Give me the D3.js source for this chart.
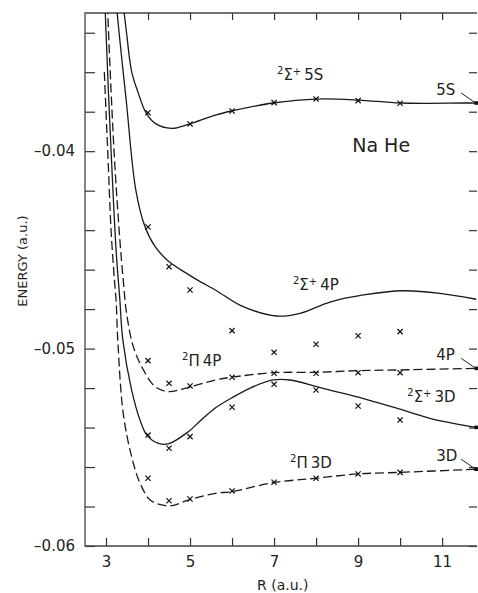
<!DOCTYPE html>
<html>
<head>
<meta charset="utf-8">
<script src="https://cdnjs.cloudflare.com/ajax/libs/d3/7.8.5/d3.min.js"></script>
<style>
body { margin:0; background:#fff; }
svg text { font-family: "DejaVu Sans", sans-serif; fill:#222; }
.axis path { display:none; }
.axis line { stroke:#333; stroke-width:1.2; }
.axis text { font-size:15px; }
</style>
</head>
<body>
<div id="chart"></div>
<script>
// potential curves [R, E]
var curve5S = [[3.36,-0.0322],[3.43,-0.0330],[3.49,-0.03403],[3.61,-0.03597],[3.77,-0.03707],[3.95,-0.03805],[4.17,-0.03859],[4.56,-0.03884],[4.96,-0.03864],[5.60,-0.03817],[6.0,-0.03796],[6.98,-0.03756],[8.02,-0.03736],[9.0,-0.03741],[10.02,-0.03756],[11.5,-0.03756],[11.81,-0.03756]];
var curveS4P = [[3.21,-0.0313],[3.26,-0.03285],[3.48,-0.03741],[3.71,-0.04197],[3.93,-0.04384],[4.17,-0.04484],[4.48,-0.04556],[4.88,-0.04614],[5.20,-0.04656],[5.64,-0.04708],[6.21,-0.04782],[7.06,-0.04835],[7.62,-0.04821],[8.33,-0.04764],[9.13,-0.04728],[10.08,-0.04707],[10.95,-0.04720],[11.81,-0.04750]];
var curveP4P = [[3.02,-0.0313],[3.04,-0.03285],[3.19,-0.03994],[3.33,-0.04450],[3.41,-0.04652],[3.49,-0.04821],[3.65,-0.04990],[3.89,-0.05108],[4.17,-0.05193],[4.48,-0.05218],[4.88,-0.05201],[5.60,-0.05159],[5.99,-0.05145],[6.98,-0.05122],[8.02,-0.05120],[8.97,-0.05112],[10.0,-0.05108],[11.81,-0.05100]];
var curveS3D = [[2.97,-0.0313],[2.98,-0.03285],[3.12,-0.03994],[3.24,-0.04501],[3.33,-0.04754],[3.40,-0.04956],[3.61,-0.05210],[3.81,-0.05362],[3.97,-0.05438],[4.25,-0.05480],[4.48,-0.05483],[4.96,-0.05421],[5.24,-0.05367],[5.60,-0.05301],[5.99,-0.05250],[6.43,-0.05200],[6.98,-0.05159],[7.38,-0.05159],[8.02,-0.05193],[8.33,-0.05210],[9.13,-0.05253],[9.92,-0.05302],[10.71,-0.05353],[11.81,-0.05399]];
var curveP3D = [[2.96,-0.03599],[3.05,-0.04045],[3.12,-0.04399],[3.20,-0.04652],[3.24,-0.04754],[3.28,-0.04956],[3.41,-0.05328],[3.61,-0.05548],[3.81,-0.05682],[4.05,-0.05767],[4.33,-0.05792],[4.56,-0.05796],[4.96,-0.05767],[5.60,-0.05733],[5.99,-0.05725],[6.98,-0.05679],[7.98,-0.05657],[9.0,-0.05635],[10.0,-0.05627],[11.81,-0.05611]];

// other calculation (crosses)
var crossR = [4, 4.5, 5, 6, 7, 8, 9, 10];
var crossR5S = [4, 5, 6, 7, 8, 9, 10];
var cross5S = [-0.03805,-0.03862,-0.03796,-0.03754,-0.03736,-0.03744,-0.03757];
var crossS4P = [-0.04384,-0.04585,-0.04703,-0.04909,-0.05019,-0.04978,-0.04935,-0.04914];
var crossP4P = [-0.05061,-0.05176,-0.05189,-0.05145,-0.05125,-0.05125,-0.05122,-0.05122];
var crossS3D = [-0.05438,-0.05505,-0.05446,-0.05297,-0.05181,-0.05210,-0.05291,-0.05362];
var crossP3D = [-0.05657,-0.05771,-0.05762,-0.05721,-0.05677,-0.05657,-0.05635,-0.05627];

// atomic asymptotes
var asymR = 11.81;
var asymE = [-0.03756, -0.05100, -0.05399, -0.05611];
var asymNames = ["5S", "4P", "", "3D"];

var yTickLabels = [-0.04, -0.05, -0.06];
var xTickLabels = [3, 5, 7, 9, 11];

var draw = function(){
	var svg = d3.select("#chart").append("svg").attr("width", 478).attr("height", 593);
	var x = d3.scaleLinear().domain([2.5, 11.83]).range([85, 477]);
	var y = d3.scaleLinear().domain([-0.06, -0.033]).range([546, 13]);

	svg.append("defs").append("clipPath").attr("id", "plot")
		.append("rect").attr("x", 85).attr("y", 13).attr("width", 392).attr("height", 533);

	var yTicks = d3.range(-0.06, -0.0329, 0.002);
	var xTicks = d3.range(3, 12, 1);

	var yAxis = d3.axisLeft(y).tickValues(yTicks).tickSizeInner(-10).tickSizeOuter(0).tickPadding(10)
		.tickFormat(function(d){
			var hit = yTickLabels.some(function(v){ return Math.abs(v - d) < 1e-6; });
			return hit ? "\u2013" + Math.abs(d).toFixed(2) : "";
		});
	svg.append("g").attr("class", "y axis").attr("transform", "translate(85,0)").call(yAxis);

	var yAxisR = d3.axisRight(y).tickValues(yTicks).tickSizeInner(-8).tickSizeOuter(0).tickFormat("");
	svg.append("g").attr("class", "axis").attr("transform", "translate(477,0)").call(yAxisR);

	var xAxis = d3.axisBottom(x).tickValues(xTicks).tickSizeInner(-8).tickSizeOuter(0).tickPadding(10)
		.tickFormat(function(d){ return xTickLabels.indexOf(d) >= 0 ? d : ""; });
	svg.append("g").attr("class", "x axis").attr("transform", "translate(0,546)").call(xAxis);

	var xAxisT = d3.axisTop(x).tickValues(xTicks.slice(1)).tickSizeInner(-7).tickSizeOuter(0).tickFormat("");
	svg.append("g").attr("class", "axis").attr("transform", "translate(0,13)").call(xAxisT);

	// frame
	svg.append("path").attr("d", "M477,13H85V546H477")
		.attr("fill", "none").attr("stroke", "#444").attr("stroke-width", 1.3);

	svg.append("text").attr("text-anchor", "middle")
		.attr("transform", "translate(27,261) rotate(-90)")
		.style("font-size", "13px").text("ENERGY  (a.u.)");
	svg.append("text").attr("text-anchor", "start")
		.attr("transform", "translate(257,590)")
		.style("font-size", "14px").text("R  (a.u.)");

	var line = d3.line().curve(d3.curveCatmullRom.alpha(0.5))
		.x(function(d){ return x(d[0]); })
		.y(function(d){ return y(d[1]); });

	var curves = [
		{data: curve5S, dash: null},
		{data: curveS4P, dash: null},
		{data: curveP4P, dash: "9,4"},
		{data: curveS3D, dash: null},
		{data: curveP3D, dash: "9,4"}
	];
	var gc = svg.append("g").attr("clip-path", "url(#plot)");
	for(var k=0;k<curves.length;k++){
		gc.append("path").datum(curves[k].data)
			.attr("fill", "none")
			.attr("stroke", "#1a1a1a")
			.attr("stroke-width", 1.3)
			.attr("stroke-dasharray", curves[k].dash)
			.attr("d", line);
	}

	var crossSets = [
		{r: crossR5S, e: cross5S},
		{r: crossR, e: crossS4P},
		{r: crossR, e: crossP4P},
		{r: crossR, e: crossS3D},
		{r: crossR, e: crossP3D}
	];
	crossSets.forEach(function(s){
		var pts = s.r.map(function(r, i){ return [r, s.e[i]]; });
		svg.append("g").selectAll("path").data(pts).enter()
			.append("path")
			.attr("d", function(d){
				var cx = x(d[0]), cy = y(d[1]), h = 2.6;
				return "M"+(cx-h)+","+(cy-h)+"L"+(cx+h)+","+(cy+h)+"M"+(cx-h)+","+(cy+h)+"L"+(cx+h)+","+(cy-h);
			})
			.attr("stroke", "#111").attr("stroke-width", 1.2);
	});

	// asymptote markers with pointers
	var ga = svg.append("g");
	asymE.forEach(function(e, i){
		var px = x(asymR), py = y(e);
		ga.append("rect").attr("x", px-1.8).attr("y", py-1.8).attr("width", 3.6).attr("height", 3.6).attr("fill", "#111");
		if(asymNames[i]){
			ga.append("path").attr("d", "M"+(px-15)+","+(py-10)+"L"+(px-2)+","+(py-1))
				.attr("stroke", "#222").attr("stroke-width", 1);
			ga.append("text").attr("x", px-40).attr("y", py-8)
				.style("font-size", "15px").text(asymNames[i]);
		}
	});

	// state labels
	var labels = [
		{r: 7.07, e: -0.03639, sup: "2", sym: "\u03A3", plus: true, rest: "5S"},
		{r: 7.45, e: -0.04703, sup: "2", sym: "\u03A3", plus: true, rest: "4P"},
		{r: 4.81, e: -0.05088, sup: "2", sym: "\u03A0", plus: false, rest: "4P"},
		{r: 10.17, e: -0.05271, sup: "2", sym: "\u03A3", plus: true, rest: "3D"},
		{r: 7.38, e: -0.05605, sup: "2", sym: "\u03A0", plus: false, rest: "3D"}
	];
	labels.forEach(function(l){
		var t = svg.append("text").attr("x", x(l.r)).attr("y", y(l.e)).style("font-size", "15px");
		t.append("tspan").attr("dy", -6).style("font-size", "10px").text(l.sup);
		t.append("tspan").attr("dy", 6).text(l.sym);
		if(l.plus){
			t.append("tspan").attr("dy", -5).style("font-size", "10px").text("+");
			t.append("tspan").attr("dy", 5).attr("dx", 3).text(l.rest);
		} else {
			t.append("tspan").attr("dx", 3).text(l.rest);
		}
	});

	svg.append("text").attr("x", x(8.86)).attr("y", y(-0.04004))
		.style("font-size", "19px").text("Na He");
};

window.onload = function(){
	draw();
};
</script>
</body>
</html>
